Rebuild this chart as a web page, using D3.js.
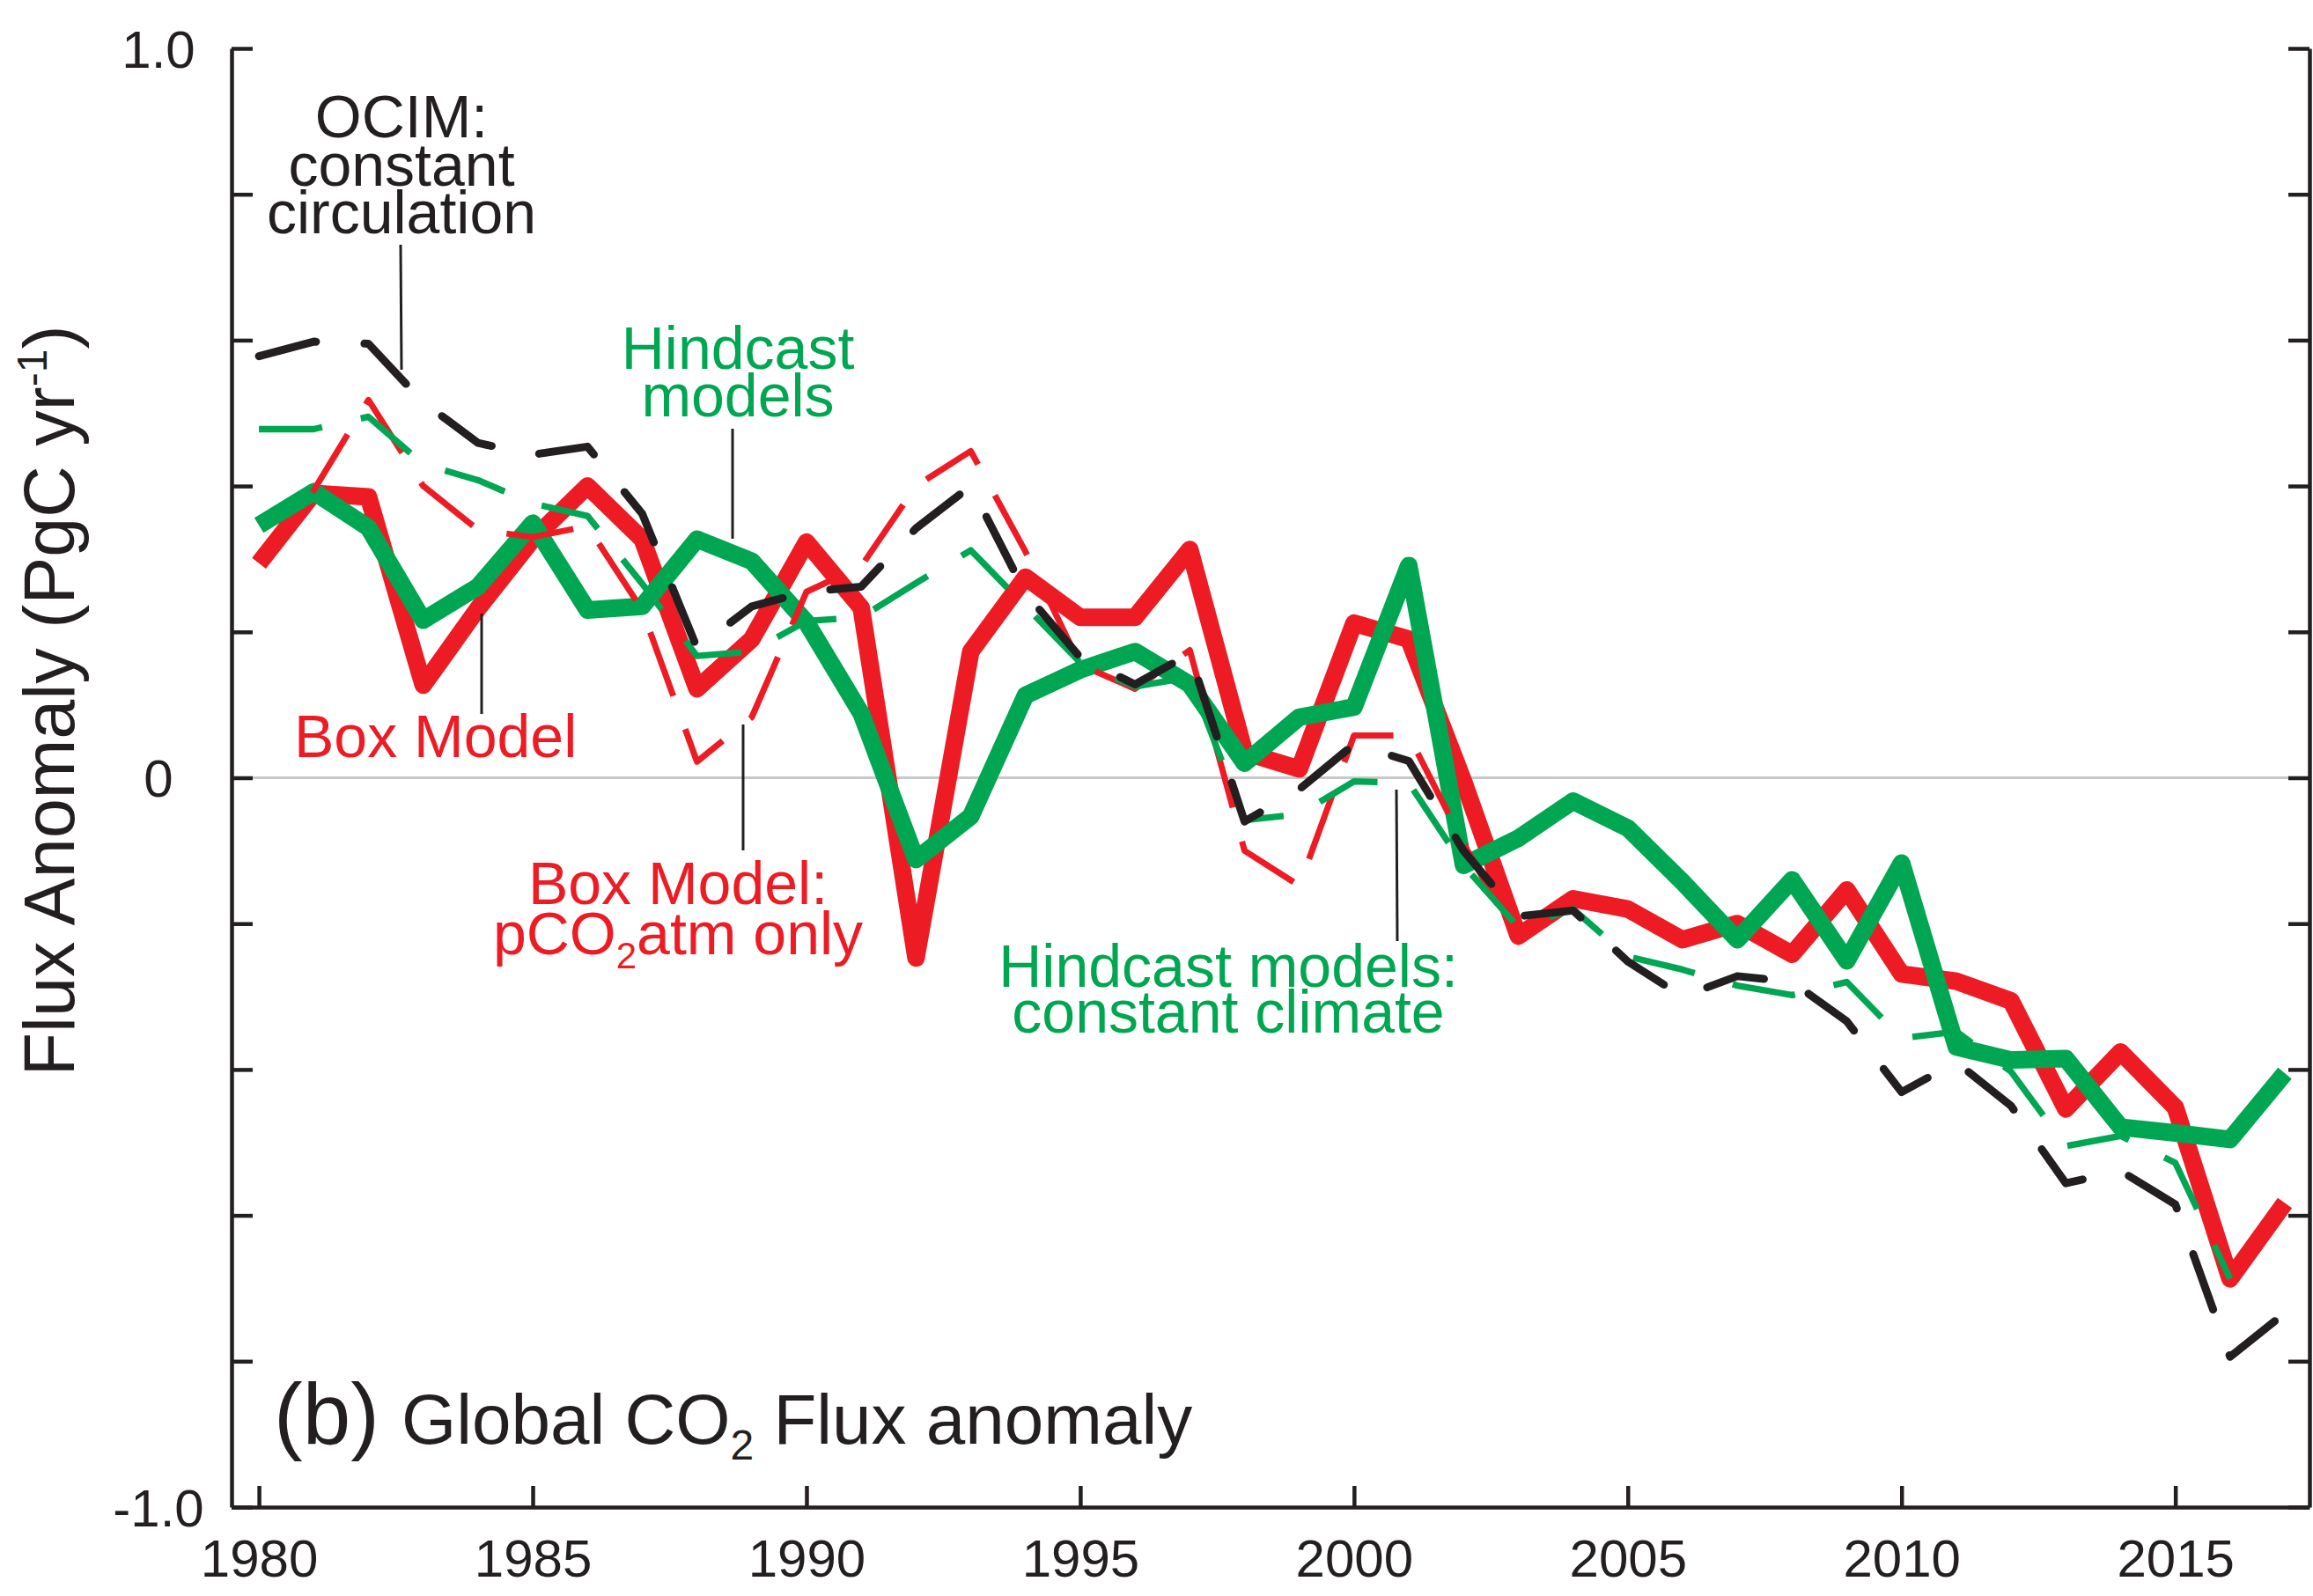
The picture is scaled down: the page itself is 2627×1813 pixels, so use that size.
<!DOCTYPE html>
<html>
<head>
<meta charset="utf-8">
<script src="https://cdn.jsdelivr.net/npm/d3@7"></script>
<style>
  html, body { margin: 0; padding: 0; background: #fff; }
  svg { display: block; }
  text { font-family: "Liberation Sans", Arial, Helvetica, sans-serif; }
</style>
</head>
<body>
<svg id="chart" width="2627" height="1813"></svg>
<script>
// Global CO2 flux anomaly (PgC/yr), 1980-2017
const years = d3.range(1980, 2018);

// Box Model (thick red)
const boxModel = [
  0.294, 0.39, 0.385, 0.127, 0.232, 0.327, 0.40, 0.327, 0.122, 0.19,
  0.323, 0.233, -0.247, 0.173, 0.275, 0.22, 0.22, 0.313, 0.035, 0.012,
  0.212, 0.19, -0.005, -0.217, -0.166, -0.18, -0.222, -0.2, -0.242, -0.154,
  -0.269, -0.279, -0.306, -0.454, -0.376, -0.452, -0.687, -0.583
];

// Hindcast models (thick green)
const hindcast = [
  0.346, 0.392, 0.343, 0.216, 0.262, 0.349, 0.23, 0.235, 0.327, 0.297,
  0.213, 0.088, -0.112, -0.053, 0.113, 0.148, 0.173, 0.128, 0.02, 0.083,
  0.097, 0.291, -0.12, -0.083, -0.032, -0.069, -0.143, -0.222, -0.14, -0.251,
  -0.117, -0.369, -0.387, -0.385, -0.479, -0.487, -0.496, -0.405
];

// OCIM: constant circulation (black dashed)
const ocimConstCirc = [
  0.578, 0.598, 0.595, 0.515, 0.459, 0.443, 0.454, 0.362, 0.178, 0.235,
  0.255, 0.262, 0.342, 0.40, 0.253, 0.165, 0.128, 0.17, -0.06, -0.016,
  0.046, 0.023, -0.1, -0.19, -0.182, -0.252, -0.30, -0.272, -0.28, -0.334,
  -0.431, -0.39, -0.45, -0.556, -0.539, -0.585, -0.794, -0.734
];

// Box Model: pCO2atm only (thin red dashed), 1980-2004
const boxModelPco2Only = [
  0.30, 0.394, 0.518, 0.40, 0.34, 0.33, 0.345, 0.23, 0.022, 0.083,
  0.255, 0.29, 0.40, 0.448, 0.31, 0.155, 0.122, 0.175, -0.10, -0.148,
  0.058, 0.058, -0.09, -0.225, -0.175
];

// Hindcast models: constant climate (thin green dashed), 1980-2016
const hindcastConstClimate = [
  0.478, 0.478, 0.495, 0.43, 0.408, 0.376, 0.359, 0.266, 0.167, 0.173,
  0.215, 0.22, 0.267, 0.312, 0.235, 0.158, 0.125, 0.138, -0.058, -0.05,
  -0.005, -0.007, -0.12, -0.205, -0.18, -0.245, -0.263, -0.285, -0.298, -0.28,
  -0.357, -0.348, -0.403, -0.505, -0.491, -0.528, -0.687
];

const xTickValues = [1980, 1985, 1990, 1995, 2000, 2005, 2010, 2015];
const yTickValues = [-1, -0.8, -0.6, -0.4, -0.2, 0, 0.2, 0.4, 0.6, 0.8, 1];
const yLabelValues = [1, 0, -1];
const yLabelText = ["1.0", "0", "-1.0"];

const INK = "#231f20";
const RED = "#ed1c24";
const GREEN = "#00a651";

const frame = { left: 263, right: 2623, top: 55, bottom: 1712 };

const svg = d3.select("#chart");

const x = d3.scaleLinear().domain([1979.5, 2017.45]).range([frame.left, frame.right]);
const y = d3.scaleLinear().domain([-1, 1]).range([frame.bottom, frame.top]);

const series = (vals) => vals.map((v, i) => ({ year: years[i], value: v }));
const line = d3.line().x(d => x(d.year)).y(d => y(d.value));

// zero reference line
svg.append("line")
  .attr("x1", frame.left + 3).attr("x2", frame.right - 3)
  .attr("y1", y(0)).attr("y2", y(0))
  .attr("stroke", "#c8c8c8").attr("stroke-width", 3);

// thick solid series
svg.append("path").datum(series(boxModel))
  .attr("d", line).attr("fill", "none")
  .attr("stroke", RED).attr("stroke-width", 20)
  .attr("stroke-linejoin", "round");

svg.append("path").datum(series(hindcast))
  .attr("d", line).attr("fill", "none")
  .attr("stroke", GREEN).attr("stroke-width", 20)
  .attr("stroke-linejoin", "round");

// thin dashed series
svg.append("path").datum(series(boxModelPco2Only))
  .attr("d", line).attr("fill", "none")
  .attr("stroke", RED).attr("stroke-width", 7)
  .attr("stroke-dasharray", "77,40").attr("stroke-dashoffset", 20)
  .attr("stroke-linejoin", "round");

svg.append("path").datum(series(hindcastConstClimate))
  .attr("d", line).attr("fill", "none")
  .attr("stroke", GREEN).attr("stroke-width", 7.3)
  .attr("stroke-dasharray", "72,45")
  .attr("stroke-linejoin", "round");

svg.append("path").datum(series(ocimConstCirc))
  .attr("d", line).attr("fill", "none")
  .attr("stroke", INK).attr("stroke-width", 9)
  .attr("stroke-dasharray", "67,55")
  .attr("stroke-linecap", "round")
  .attr("stroke-linejoin", "round");

// axes
function styleAxis(g) {
  g.selectAll("path.domain").attr("stroke", INK).attr("stroke-width", 4.5);
  g.selectAll(".tick line").attr("stroke", INK).attr("stroke-width", 4.5);
}

svg.append("g")
  .attr("transform", `translate(${frame.left},0)`)
  .call(d3.axisLeft(y).tickValues(yTickValues).tickSizeInner(-24).tickSizeOuter(0).tickFormat(""))
  .call(styleAxis);

svg.append("g")
  .attr("transform", `translate(${frame.right},0)`)
  .call(d3.axisRight(y).tickValues(yTickValues).tickSizeInner(-24).tickSizeOuter(0).tickFormat(""))
  .call(styleAxis);

const xAxisG = svg.append("g")
  .attr("transform", `translate(0,${frame.bottom})`)
  .call(d3.axisBottom(x).tickValues(xTickValues).tickSizeInner(-24).tickSizeOuter(0).tickFormat(d3.format("d")))
  .call(styleAxis);

xAxisG.selectAll(".tick text")
  .attr("y", 79).attr("dy", 0)
  .attr("fill", INK)
  .style("font-size", "60px")
  .style("font-family", '"Liberation Sans", Arial, sans-serif');

// y tick labels
svg.append("g").selectAll("text")
  .data(yLabelValues)
  .join("text")
  .attr("x", 180)
  .attr("y", d => y(d))
  .attr("dy", "0.36em")
  .attr("text-anchor", "middle")
  .attr("fill", INK)
  .style("font-size", "60px")
  .text((d, i) => yLabelText[i]);

// y axis title
const yTitle = svg.append("text")
  .attr("transform", "translate(84,796) rotate(-90)")
  .attr("text-anchor", "middle")
  .attr("fill", INK)
  .style("font-size", "81px");
yTitle.append("tspan").text("Flux Anomaly (PgC yr");
yTitle.append("tspan").attr("dy", -31).style("font-size", "48px").text("-1");
yTitle.append("tspan").attr("dy", 31).text(")");

// annotations
function label(lines, xPos, baselines, color, anchor) {
  lines.forEach((t, i) => {
    svg.append("text")
      .attr("x", xPos).attr("y", baselines[i])
      .attr("text-anchor", anchor || "middle")
      .attr("fill", color)
      .style("font-size", "68px")
      .text(t);
  });
}

function leader(x0, y0, x1, y1) {
  svg.append("line")
    .attr("x1", x0).attr("y1", y0).attr("x2", x1).attr("y2", y1)
    .attr("stroke", INK).attr("stroke-width", 3);
}

label(["OCIM:", "constant", "circulation"], 456, [156, 211, 265], INK);
leader(455, 278, 456, 420);

label(["Hindcast", "models"], 838, [419, 473], GREEN);
leader(832, 487, 832, 612);

label(["Box Model"], 334, [860], RED, "start");
leader(547, 697, 547, 811);

label(["Box Model:"], 770, [1027], RED);
const pco2 = svg.append("text")
  .attr("x", 770).attr("y", 1084)
  .attr("text-anchor", "middle")
  .attr("fill", RED)
  .style("font-size", "68px");
pco2.append("tspan").text("pCO");
pco2.append("tspan").attr("dy", 16).style("font-size", "42px").text("2");
pco2.append("tspan").attr("dy", -16).text("atm only");
leader(844, 823, 844, 966);

label(["Hindcast models:", "constant climate"], 1395, [1121, 1173], GREEN);
leader(1586, 897, 1587, 1069);

// panel title
svg.append("text")
  .attr("x", 311).attr("y", 1640)
  .attr("fill", INK)
  .style("font-size", "98px")
  .text("(b)");

const panelTitle = svg.append("text")
  .attr("x", 456).attr("y", 1640)
  .attr("fill", INK)
  .style("font-size", "80px");
panelTitle.append("tspan").text("Global CO");
panelTitle.append("tspan").attr("dy", 18).style("font-size", "48px").text("2");
panelTitle.append("tspan").attr("dy", -18).text(" Flux anomaly");
</script>
</body>
</html>
